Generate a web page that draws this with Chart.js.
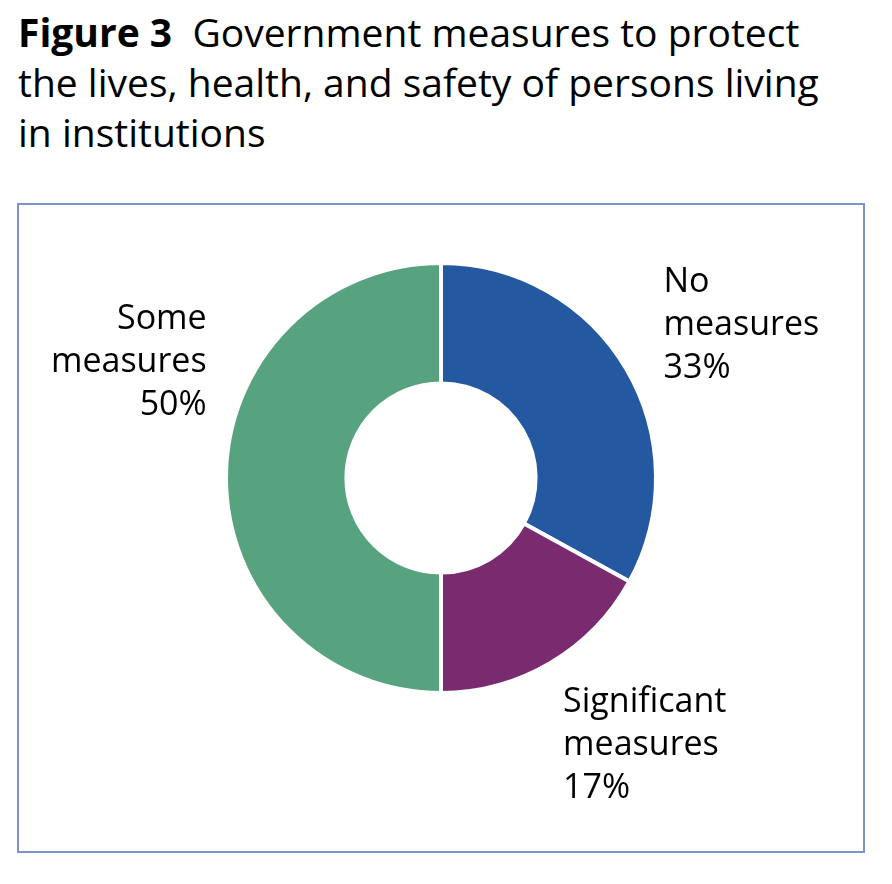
<!DOCTYPE html>
<html>
<head>
<meta charset="utf-8">
<script src="https://cdn.jsdelivr.net/npm/chart.js@4"></script>
<style>
  html, body { margin: 0; padding: 0; background: #fff; }
  body { width: 892px; height: 884px; position: relative; font-family: "Open Sans", "Noto Sans", sans-serif; }
  #title { position: absolute; left: 18px; top: 7px; font-size: 39px; line-height: 50px; color: #000; }
  #title b { font-weight: 700; }
  #frame { position: absolute; left: 17px; top: 203px; width: 844px; height: 646px; border: 2px solid #7b93c8; }
  #frame canvas { display: block; }
</style>
</head>
<body>
<div id="title"><b>Figure 3</b>&nbsp; Government measures to protect<br>the lives, health, and safety of persons living<br>in institutions</div>
<div id="frame"><canvas id="chart" width="844" height="646"></canvas></div>
<script>
// Dados do gráfico
const categorias = [['No', 'measures'], ['Significant', 'measures'], ['Some', 'measures']];
const valores = [33, 17, 50];
const cores = ['#2458a0', '#7a2b70', '#57a380'];

// posição dos rótulos relativa ao centro, em raios (dx, dy da 1a linha), e alinhamento
const rotulosLayout = [
  { dx: 1.035, dy: -0.865, align: 'left' },
  { dx: 0.568, dy: 1.09, align: 'left' },
  { dx: -1.09, dy: -0.695, align: 'right' }
];

const rotulos = {
  id: 'rotulos',
  afterDraw(chart) {
    const ctx = chart.ctx;
    const meta = chart.getDatasetMeta(0);
    ctx.save();
    ctx.fillStyle = '#000';
    ctx.font = '34px "Open Sans", "Noto Sans", sans-serif';
    ctx.textBaseline = 'alphabetic';
    meta.data.forEach((arc, i) => {
      const lay = rotulosLayout[i];
      const r = arc.outerRadius;
      const x = arc.x + lay.dx * r;
      let y = arc.y + lay.dy * r;
      ctx.textAlign = lay.align;
      const linhas = categorias[i].concat([valores[i] + '%']);
      linhas.forEach(l => {
        ctx.fillText(l, x, y);
        y += 43;
      });
    });
    ctx.restore();
  }
};

const ctx = document.getElementById('chart').getContext('2d');
new Chart(ctx, {
  type: 'doughnut',
  data: {
    labels: categorias.map(c => c.join(' ')),
    datasets: [{
      data: valores,
      backgroundColor: cores,
      borderColor: '#fff',
      borderWidth: 4
    }]
  },
  options: {
    responsive: false,
    animation: false,
    cutout: '44%',
    layout: { padding: { left: 205, right: 205, top: 56, bottom: 156 } },
    plugins: {
      legend: { display: false },
      tooltip: { enabled: false }
    }
  },
  plugins: [rotulos]
});
</script>
</body>
</html>
